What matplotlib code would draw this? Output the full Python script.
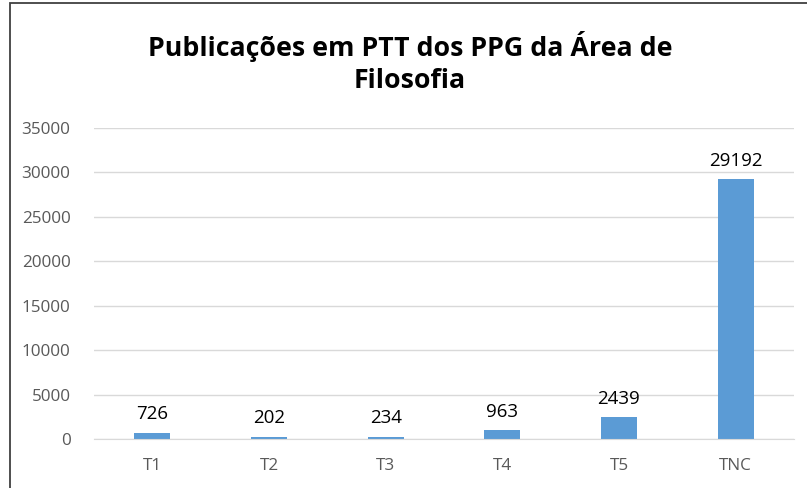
import matplotlib.pyplot as plt
from matplotlib.patches import Rectangle

categories = ['T1', 'T2', 'T3', 'T4', 'T5', 'TNC']
values = [726, 202, 234, 963, 2439, 29192]
title = 'Publicações em PTT dos PPG da Área de\nFilosofia'

plt.rcParams['font.family'] = ['Open Sans', 'DejaVu Sans']

W, H = 807, 488
fig = plt.figure(figsize=(W / 100, H / 100), dpi=100)

# Outer chart border (Excel chart area), partially cropped at right/bottom
fig.patches.append(Rectangle((10 / W, -0.05), 1.2, 1 - 3.5 / H + 0.05,
                             transform=fig.transFigure, fill=False,
                             edgecolor='#404040', linewidth=1.3))

ax = fig.add_axes([94 / W, 49 / H, 700 / W, 311.3 / H])
x = range(len(categories))
bars = ax.bar(x, values, width=0.31, color='#5B9BD5', zorder=2)

for b, v in zip(bars, values):
    ax.annotate(str(v), (b.get_x() + b.get_width() / 2, v), xytext=(0, 7),
                textcoords='offset points', ha='center', va='bottom',
                fontsize=13.5, color='black')

ax.set_xlim(-0.5, len(categories) - 0.5)
ax.set_ylim(0, 35000)
ax.set_yticks(range(0, 35001, 5000))
ax.set_xticks(list(x))
ax.set_xticklabels(categories)
ax.yaxis.grid(True, color='#D9D9D9', linewidth=1, zorder=0)
for s in ax.spines.values():
    s.set_visible(False)
ax.spines['bottom'].set_visible(True)
ax.spines['bottom'].set_color('#D9D9D9')
ax.tick_params(length=0, labelsize=12.3, colors='#595959', pad=14)
ax.tick_params(axis='y', pad=17)

fig.text(410 / W, 1 - 63 / H, title, ha='center', va='center',
         fontsize=19.3, fontweight='bold', linespacing=1.3)

fig.savefig('out.png', dpi=100)
